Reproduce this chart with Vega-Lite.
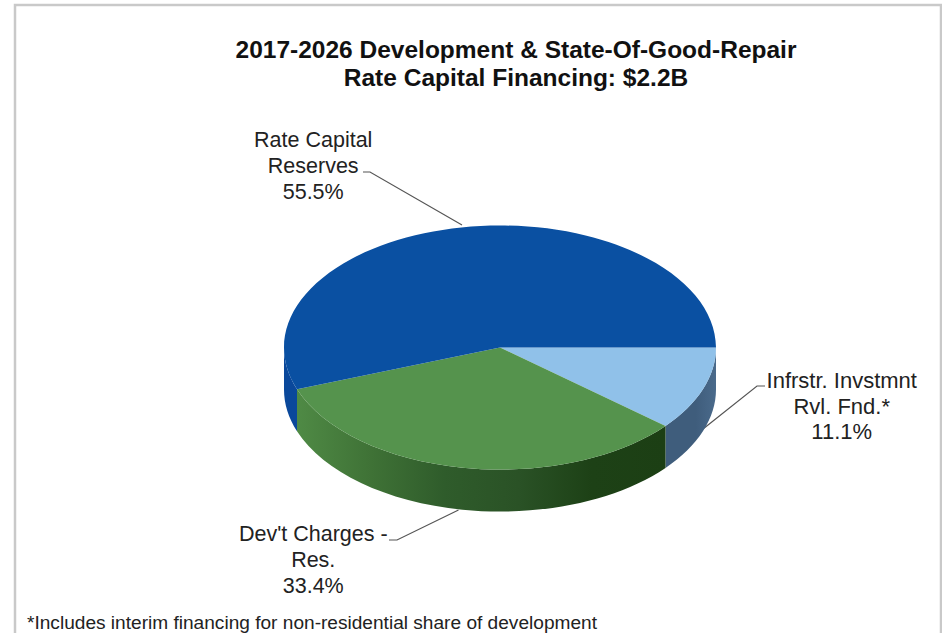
{
"$schema":"https://vega.github.io/schema/vega-lite/v6.json",
"width":926,"height":640,
"padding":{"left":15,"top":5,"right":1,"bottom":0},
"autosize":{"type":"none"},
"background":"white",
"view":{"stroke":"#c9c9c9","strokeWidth":2.5,"fill":"white"},
"config":{"text":{"font":"Liberation Sans"}},
"title":{"text":["2017-2026 Development & State-Of-Good-Repair","Rate Capital Financing: $2.2B"],"font":"Liberation Sans","fontSize":24.5,"fontWeight":"bold","color":"#111111","lineHeight":28,"anchor":"middle","frame":"group","dx":38,"offset":-86.5},
"data":{"values":[
{"slice":"Infrstr. Invstmnt Rvl. Fnd.*","share":11.1,"order":1,"label":"Infrstr. Invstmnt\nRvl. Fnd.*\n11.1%"},
{"slice":"Dev't Charges - Res.","share":33.4,"order":2,"label":"Dev't Charges -\nRes.\n33.4%"},
{"slice":"Rate Capital Reserves","share":55.5,"order":3,"label":"Rate Capital\nReserves\n55.5%"}
]},
"transform":[
{"stack":"share","sort":[{"field":"order","order":"ascending"}],"as":["s0","s1"]},
{"calculate":"(datum.s0+datum.s1)/2","as":"mid"}
],
"resolve":{"scale":{"shape":"independent","color":"independent"}},
"layer":[
{"mark":{"type":"point","filled":false,"opacity":1,"size":4,"stroke":"#555555","strokeWidth":1.2},
 "encoding":{"shape":{"field":"slice","type":"nominal","legend":null,"scale":{"domain":["Infrstr. Invstmnt Rvl. Fnd.*","Dev't Charges - Res.","Rate Capital Reserves"],"range":["M287 61L279 61L225 104","M-89 215L-81 215L-19.5 185","M-115 -153L-108 -153L-16 -100"]}}}},
{"transform":[{"filter":"datum.order==3"}],
 "mark":{"type":"point","filled":true,"opacity":1,"size":4,"fill":"#0a489b"},
 "encoding":{"shape":{"field":"slice","type":"nominal","legend":null,"scale":{"domain":["Rate Capital Reserves"],"range":["M-181 64.2A216 122 0 0 1 -194 22.5L-194 64.5A216 122 0 0 0 -181 106.2Z"]}}}},
{"transform":[{"filter":"datum.order==1"}],
 "mark":{"type":"point","filled":true,"opacity":1,"size":4,"fill":{"x1":0,"y1":0,"x2":1,"y2":0,"gradient":"linear","stops":[{"offset":0,"color":"#3f5d7c"},{"offset":0.6,"color":"#3f5d7c"},{"offset":1,"color":"#4a6a8b"}]}},
 "encoding":{"shape":{"field":"slice","type":"nominal","legend":null,"scale":{"domain":["Infrstr. Invstmnt Rvl. Fnd.*"],"range":["M238 22.5A216 122 0 0 1 187.5 100.9L187.5 142.9A216 122 0 0 0 238 64.5Z"]}}}},
{"transform":[{"filter":"datum.order==2"}],
 "mark":{"type":"point","filled":true,"opacity":1,"size":4,"fill":{"x1":0,"y1":0,"x2":1,"y2":0,"gradient":"linear","stops":[{"offset":0,"color":"#4f8a45"},{"offset":0.2,"color":"#3f7236"},{"offset":0.4,"color":"#2f5c2b"},{"offset":0.6,"color":"#2a5226"},{"offset":0.8,"color":"#1d4116"},{"offset":1,"color":"#1c3f14"}]}},
 "encoding":{"shape":{"field":"slice","type":"nominal","legend":null,"scale":{"domain":["Dev't Charges - Res."],"range":["M187.5 100.9A216 122 0 0 1 -181 64.2L-181 106.2A216 122 0 0 0 187.5 142.9Z"]}}}},
{"mark":{"type":"point","filled":true,"opacity":1,"size":4},
 "encoding":{
  "shape":{"field":"slice","type":"nominal","legend":null,"scale":{"domain":["Infrstr. Invstmnt Rvl. Fnd.*","Dev't Charges - Res.","Rate Capital Reserves"],"range":["M22 22.5L238 22.5A216 122 0 0 1 187.5 100.9Z","M22 22.5L187.5 100.9A216 122 0 0 1 -181 64.2Z","M22 22.5L-181 64.2A216 122 0 1 1 238 22.5Z"]}},
  "color":{"field":"slice","type":"nominal","legend":null,"scale":{"domain":["Infrstr. Invstmnt Rvl. Fnd.*","Dev't Charges - Res.","Rate Capital Reserves"],"range":["#90c1e9","#55934d","#0a50a2"]}}}},
{"transform":[{"filter":"datum.order==1"}],
 "mark":{"type":"text","radius":370,"dx":16,"dy":-70,"fontSize":22,"lineHeight":25.5,"lineBreak":"\n","align":"center","baseline":"middle","color":"#222222"},
 "encoding":{"theta":{"field":"mid","type":"quantitative","stack":null,"scale":{"domain":[0,100],"range":[1.5708,7.854]}},"text":{"field":"label"}}},
{"transform":[{"filter":"datum.order==2"}],
 "mark":{"type":"text","radius":250,"dx":-121,"dy":-36,"fontSize":21.5,"lineHeight":26,"lineBreak":"\n","align":"center","baseline":"middle","color":"#222222"},
 "encoding":{"theta":{"field":"mid","type":"quantitative","stack":null,"scale":{"domain":[0,100],"range":[1.5708,7.854]}},"text":{"field":"label"}}},
{"transform":[{"filter":"datum.order==3"}],
 "mark":{"type":"text","radius":150,"dx":-139,"dy":-36,"fontSize":21.5,"lineHeight":26,"lineBreak":"\n","align":"center","baseline":"middle","color":"#222222"},
 "encoding":{"theta":{"field":"mid","type":"quantitative","stack":null,"scale":{"domain":[0,100],"range":[1.5708,7.854]}},"text":{"field":"label"}}},
{"data":{"values":[{"note":"*Includes interim financing for non-residential share of development"}]},
 "transform":[],
 "mark":{"type":"text","dx":-451,"dy":298,"fontSize":19.1,"align":"left","baseline":"middle","color":"#222222"},
 "encoding":{"text":{"field":"note"}}}
]
}
